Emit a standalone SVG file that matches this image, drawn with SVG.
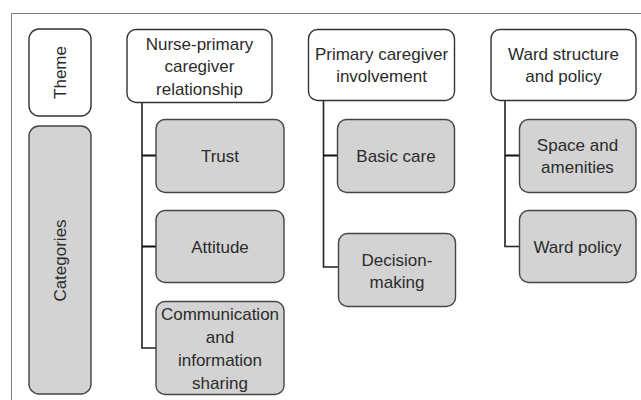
<svg xmlns="http://www.w3.org/2000/svg" width="641" height="400" viewBox="0 0 641 400">
  <style>
    .theme { fill: #ffffff; stroke: #333333; stroke-width: 1.4; }
    .cat { fill: #d3d3d3; stroke: #444444; stroke-width: 1.4; }
    .label { font-family: "Liberation Sans", Arial, sans-serif; font-size: 17px; fill: #2b2b2b; text-anchor: middle; }
    .link { fill: none; stroke: #222222; stroke-width: 1.6; }
    .stub { fill: none; stroke: #111111; stroke-width: 2; }
    .frame { fill: none; stroke: #7a7a7a; stroke-width: 1; }
  </style>
  <rect width="641" height="400" fill="#ffffff"/>

  <!-- outer frame (top and left edges) -->
  <path class="frame" d="M11.5,400 V13.5 H641"/>

  <!-- legend -->
  <g id="legend-theme">
    <rect class="theme" x="29" y="29" width="62" height="87" rx="10"/>
    <text class="label" transform="translate(66,72.5) rotate(-90)">Theme</text>
  </g>
  <g id="legend-categories">
    <rect class="cat" x="29" y="126" width="62" height="268" rx="10"/>
    <text class="label" transform="translate(65.5,260.5) rotate(-90)">Categories</text>
  </g>

  <!-- connectors -->
  <g id="connectors">
    <path class="link" d="M142,103 V348 H156"/>
    <path class="stub" d="M142,155.5 H156 M142,246.5 H156"/>
    <path class="link" d="M323.5,101 V267 H338"/>
    <path class="stub" d="M323.5,155.5 H337"/>
    <path class="link" d="M505,101 V246.5 H519"/>
    <path class="stub" d="M505,155.5 H519"/>
  </g>

  <!-- theme 1 -->
  <g id="theme-relationship">
    <rect class="theme" x="127" y="29.5" width="145" height="73" rx="9"/>
    <text class="label"><tspan x="199.5" y="49.5">Nurse-primary</tspan><tspan x="199.5" y="72">caregiver</tspan><tspan x="199.5" y="94.5">relationship</tspan></text>
  </g>
  <g id="cat-trust">
    <rect class="cat" x="156" y="119.5" width="128" height="73" rx="9"/>
    <text class="label" x="220" y="162">Trust</text>
  </g>
  <g id="cat-attitude">
    <rect class="cat" x="156" y="210.5" width="128" height="72" rx="9"/>
    <text class="label" x="220" y="253">Attitude</text>
  </g>
  <g id="cat-communication">
    <rect class="cat" x="156" y="301.5" width="128" height="93" rx="9"/>
    <text class="label"><tspan x="220" y="319.5">Communication</tspan><tspan x="220" y="342.5">and</tspan><tspan x="220" y="365.5">information</tspan><tspan x="220" y="388.5">sharing</tspan></text>
  </g>

  <!-- theme 2 -->
  <g id="theme-involvement">
    <rect class="theme" x="308.5" y="29.5" width="146" height="71" rx="9"/>
    <text class="label"><tspan x="381.5" y="59.5">Primary caregiver</tspan><tspan x="381.5" y="82">involvement</tspan></text>
  </g>
  <g id="cat-basic-care">
    <rect class="cat" x="337.5" y="119.5" width="117" height="73" rx="9"/>
    <text class="label" x="396" y="162">Basic care</text>
  </g>
  <g id="cat-decision">
    <rect class="cat" x="338.5" y="233.5" width="117" height="73" rx="9"/>
    <text class="label"><tspan x="397" y="265.5">Decision-</tspan><tspan x="397" y="288">making</tspan></text>
  </g>

  <!-- theme 3 -->
  <g id="theme-ward">
    <rect class="theme" x="491" y="29.5" width="145" height="71" rx="9"/>
    <text class="label"><tspan x="563.5" y="59.5">Ward structure</tspan><tspan x="563.5" y="82">and policy</tspan></text>
  </g>
  <g id="cat-space">
    <rect class="cat" x="519.5" y="119.5" width="116.5" height="73" rx="9"/>
    <text class="label"><tspan x="577.5" y="150.5">Space and</tspan><tspan x="577.5" y="173">amenities</tspan></text>
  </g>
  <g id="cat-ward-policy">
    <rect class="cat" x="519.5" y="210.5" width="116.5" height="72" rx="9"/>
    <text class="label" x="577.5" y="253">Ward policy</text>
  </g>
</svg>
